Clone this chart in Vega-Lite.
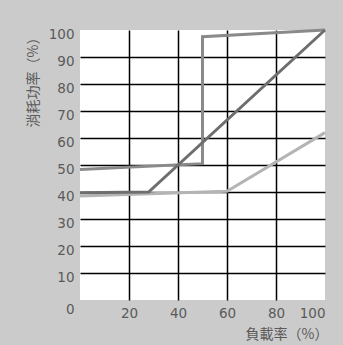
{
  "$schema": "https://vega.github.io/schema/vega-lite/v6.json",
  "width": 245,
  "height": 270,
  "autosize": {"type": "none"},
  "padding": {"left": 80, "top": 30, "right": 18, "bottom": 45},
  "background": "#cbcbcb",
  "config": {
    "view": {"stroke": null, "fill": "white"},
    "axis": {"labelFont": "DejaVu Sans", "labelFontSize": 13.5, "labelColor": "#5a5a5a", "titleFont": "Noto Sans CJK TC", "titleFontSize": 14, "titleFontWeight": "normal", "titleColor": "#5a5a5a", "domain": false, "ticks": false, "gridColor": "black", "gridWidth": 1.5, "gridOpacity": 1}
  },
  "data": {
    "values": [
      {"series": "A", "i": 1, "x": 0, "y": 48.3},
      {"series": "A", "i": 2, "x": 50, "y": 50.5},
      {"series": "A", "i": 3, "x": 50, "y": 97.5},
      {"series": "A", "i": 4, "x": 100, "y": 100},
      {"series": "C", "i": 1, "x": 0, "y": 38.5},
      {"series": "C", "i": 2, "x": 60, "y": 40.3},
      {"series": "C", "i": 3, "x": 100, "y": 62},
      {"series": "B", "i": 1, "x": 0, "y": 39.7},
      {"series": "B", "i": 2, "x": 28, "y": 40},
      {"series": "B", "i": 3, "x": 100, "y": 100}
    ]
  },
  "mark": {"type": "line", "strokeWidth": 3, "clip": false},
  "encoding": {
    "x": {
      "field": "x", "type": "quantitative",
      "scale": {"domain": [0, 100], "nice": false},
      "axis": {
        "values": [20, 40, 60, 80, 100],
        "labelPadding": 6, "labelDx": -6, "labelBaseline": "top",
        "title": "負載率（%）", "titleAnchor": "end", "titleAlign": "right",
        "titleX": 248, "titleY": 34, "titleBaseline": "middle",
        "gridColor": {"condition": {"test": "datum.value === 0 || datum.value === 100", "value": "transparent"}, "value": "black"}
      }
    },
    "y": {
      "field": "y", "type": "quantitative",
      "scale": {"domain": [0, 100], "nice": false},
      "axis": {
        "values": [0, 10, 20, 30, 40, 50, 60, 70, 80, 90, 100],
        "labelPadding": 6,
        "labelOffset": {"condition": {"test": "datum.value === 0", "value": 9}, "value": 4},
        "title": "消耗功率（%）", "titleAngle": -90, "titleAlign": "right",
        "titleX": -47, "titleY": 0, "titleBaseline": "middle",
        "gridColor": {"condition": {"test": "datum.value === 0 || datum.value === 100", "value": "transparent"}, "value": "black"}
      }
    },
    "color": {
      "field": "series", "type": "nominal",
      "scale": {"domain": ["A", "B", "C"], "range": ["#8a8a8a", "#6e6e6e", "#b4b4b4"]},
      "legend": null
    },
    "order": {"field": "i", "type": "quantitative"}
  }
}
